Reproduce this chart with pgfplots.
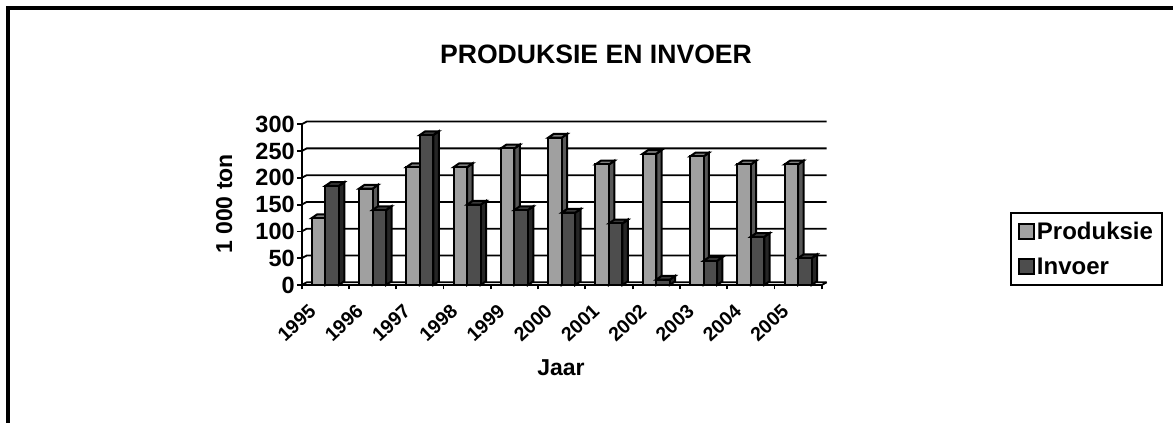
\documentclass[border=0pt]{standalone}
\usepackage{pgfplots}
\usepackage{pgfplotstable}
\usepackage{fontspec}
\setmainfont{Liberation Sans}
\pgfplotsset{compat=1.18}
\definecolor{pfront}{HTML}{A0A0A0}
\definecolor{ptop}{HTML}{808080}
\definecolor{pside}{HTML}{585858}
\definecolor{ifront}{HTML}{4D4D4D}
\definecolor{itop}{HTML}{3A3A3A}
\definecolor{iside}{HTML}{262626}
\pgfplotstableread{
x P I
0.5 125 185
1.5 180 140
2.5 220 280
3.5 220 150
4.5 255 140
5.5 275 135
6.5 225 115
7.5 245 10
8.5 240 45
9.5 225 90
10.5 225 50
}\tbl
% dx = bar depth in x units, dy = bar depth in y units
\def\ddx{0.115}
\def\ddy{7.0}
\def\bw{0.2856}
\newcommand\faces[4]{% column, left-edge offset, side colour, top colour
  \pgfplotsforeachungrouped \i in {0,...,10}{%
    \pgfplotstablegetelem{\i}{x}\of\tbl \let\cx\pgfplotsretval
    \pgfplotstablegetelem{\i}{#1}\of\tbl \let\cv\pgfplotsretval
    \pgfmathsetmacro\xa{\cx+#2}%
    \pgfmathsetmacro\xb{\xa+\bw}%
    \pgfmathsetmacro\xc{\xa+\ddx}%
    \pgfmathsetmacro\xd{\xb+\ddx}%
    \pgfmathsetmacro\yt{\cv+\ddy}%
    \edef\temp{\noexpand\addplot[forget plot,fill=#3,draw=black,line width=2pt,line join=miter,mark=none] coordinates {(\xb,0) (\xb,\cv) (\xd,\yt) (\xd,\ddy)} --cycle;
      \noexpand\addplot[forget plot,fill=#4,draw=black,line width=2pt,line join=miter,mark=none] coordinates {(\xa,\cv) (\xb,\cv) (\xd,\yt) (\xc,\yt)} --cycle;}%
    \temp
  }%
}
\begin{document}
\begin{tikzpicture}[x=1pt,y=1pt]
\fill[white] (0,0) rectangle (1173,423);
\path[use as bounding box] (0,0) rectangle (1173,423);
\fill[black] (6,0) rectangle (10,417);
\fill[black] (6,413) rectangle (1173,417);
\begin{axis}[
  at={(301.7pt,138pt)}, anchor=south west,
  scale only axis, width=520pt, height=160.7pt,
  xmin=0, xmax=11, ymin=0, ymax=300,
  clip=false,
  axis x line=bottom, axis y line=left,
  axis line style={-, line width=2pt},
  tick style={black, line width=1.8pt},
  tick align=outside, major tick length=4.5pt,
  xtick={0,...,11}, xticklabels={},
  ytick={0,50,...,300},
  yticklabel style={font=\fontsize{23.5}{23.5}\selectfont\bfseries, xshift=1pt, /pgf/number format/assume math mode=true},
  extra x ticks={0.5,1.5,...,10.5},
  extra x tick labels={1995,1996,1997,1998,1999,2000,2001,2002,2003,2004,2005},
  extra x tick style={major tick length=0pt, tick label style={font=\fontsize{19.5}{19.5}\selectfont\bfseries, rotate=43, anchor=north east, inner sep=0pt, yshift=-1pt, xshift=-25pt}},
  title={PRODUKSIE EN INVOER},
  title style={font=\fontsize{26.6}{26.6}\selectfont\bfseries, at={(rel axis cs:0.566,1.4375)}, anchor=center, yshift=-6pt},
  xlabel={Jaar},
  xlabel style={font=\fontsize{23}{23}\selectfont\bfseries, at={(rel axis cs:0.4987,-0.5165)}, anchor=center},
  ylabel={1 000 ton},
  ylabel style={font=\fontsize{23}{23}\selectfont\bfseries, at={(rel axis cs:-0.149,0.504)}, anchor=center, rotate=0},
  legend style={at={(rel axis cs:1.362,0.456)}, anchor=north west, draw=black, line width=2pt, font=\fontsize{24}{24}\selectfont\bfseries, inner xsep=7pt, inner ysep=7pt, row sep=13pt, cells={anchor=west}},
  legend cell align=left,
  legend image code/.code={\draw[#1, line width=2pt] (0,-7.5pt) rectangle (15pt,7.5pt);},
]
\addlegendimage{fill=pfront,draw=black}\addlegendentry{Produksie}
\addlegendimage{fill=ifront,draw=black}\addlegendentry{Invoer}
\pgfplotsinvokeforeach{0,50,...,300}{
  \draw[line width=1.8pt] (axis cs:0,#1) -- ([shift={(5pt,2.7pt)}]axis cs:0,#1) -- ([shift={(5pt,2.7pt)}]axis cs:11,#1);
}
\draw[line width=1.8pt] (axis cs:11,0) -- ([shift={(5pt,2.7pt)}]axis cs:11,0);
\faces{P}{-0.2856}{pside}{ptop}
\addplot[forget plot, ybar, bar width=13.5pt, bar shift=-6.75pt, fill=pfront, draw=black, line width=2pt] table[x=x,y=P] {\tbl};
\faces{I}{0}{iside}{itop}
\addplot[forget plot, ybar, bar width=13.5pt, bar shift=6.75pt, fill=ifront, draw=black, line width=2pt] table[x=x,y=I] {\tbl};
\end{axis}
\end{tikzpicture}
\end{document}
